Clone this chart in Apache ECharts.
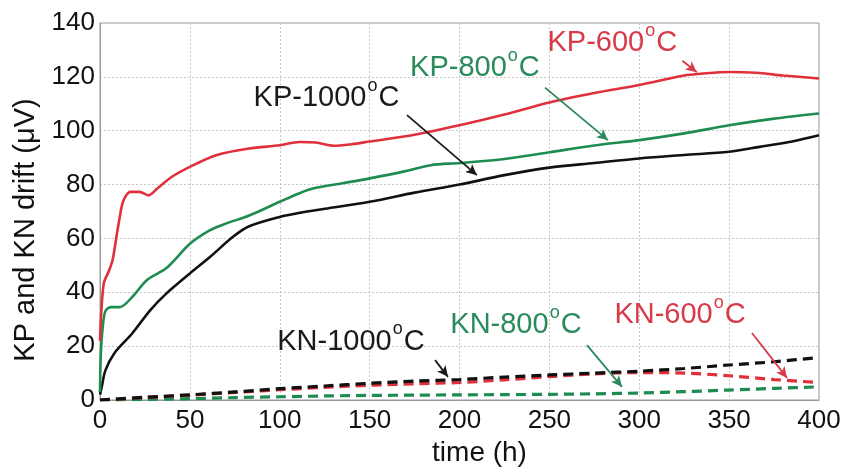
<!DOCTYPE html>
<html><head><meta charset="utf-8">
<script src="https://cdn.jsdelivr.net/npm/echarts@6/dist/echarts.min.js"></script>
<style>html,body{margin:0;padding:0;background:#fff}#c{width:846px;height:473px}</style>
</head><body><div id="c"></div>
<script>
const xTicks = [0,50,100,150,200,250,300,350,400];
const yTicks = [0,20,40,60,80,100,120,140];

const kp600T = [0,2,5,7,9,11,13,17,22,27,32,40,50,65,83,100,111,120,130,140,150,175,200,225,250,275,300,325,335,350,365,380,400];
const kp600V = [22,43,48,52,60,68,74,77.3,77.3,76,78.6,82.9,86.6,91,93.4,94.6,95.8,95.6,94.4,95,96,98.5,102,106,110.5,114,117,120.5,121.2,121.8,121.5,120.5,119.4];

const kp800T = [0,0.5,1.5,3,6,11,18,26,37,50,61,70,83,100,111,119,135,150,170,184,200,225,250,275,300,325,350,375,400];
const kp800V = [3,18,27,33,34.5,34.5,38.3,44.5,49,58,63,65.5,68.5,73.6,76.8,78.6,80.5,82.3,85,87.2,88,89.5,92,94.5,96.5,99,102,104.5,106.4];

const kp1000T = [0,1,3,8,18,28,37,50,61,74,83,100,111,125,150,175,200,225,250,275,300,325,350,367,385,400];
const kp1000V = [2,5,11,17.4,24.8,33.4,39.6,47,53,60.6,64.5,68,69.5,71,73.6,77,80,83.5,86.3,88,89.7,91,92.2,94,96,98.3];

const knT = [0,25,50,75,100,125,150,175,200,225,250,275,300,325,350,375,400];
const kn1000V = [0,1,1.9,3,4.2,5.2,6.2,7,7.6,8.5,9.3,10,10.7,11.7,13,14.2,15.8];
const kn600V  = [0,0.9,1.8,2.8,3.8,4.7,5.5,6,6.5,7.5,8.7,9.7,10.2,10,9,7.6,6.5];
const kn800V  = [0,0.2,0.5,0.9,1.2,1.5,1.7,1.8,1.9,2,2.1,2.3,2.6,3.1,3.7,4.3,4.9];

// annotations: [label, labelT, labelV, arrowFromT, arrowFromV, arrowToT, arrowToV]
const annKP600  = ['KP-600', 285, 132.5, 324, 126, 332, 121.7];
const annKP800  = ['KP-800', 208.6, 123.2, 247.6, 116, 282.6, 96.5];
const annKP1000 = ['KP-1000', 126, 112, 170.8, 105.8, 209.7, 83.5];
const annKN1000 = ['KN-1000', 139.6, 21.6, 186.4, 14.8, 193.6, 8.6];
const annKN800  = ['KN-800', 231.4, 27.8, 270.9, 20.4, 290.4, 4.9];
const annKN600  = ['KN-600', 322.7, 31.5, 362.7, 24.9, 382.2, 8.2];

const RED = '#e0303c', GREEN = '#1e8c50', BLACK = '#111111';
const RED_T = '#d83a48', GREEN_T = '#2a8a5c', BLACK_T = '#1a1a1a';

function zip(t, v) { return t.map((x, i) => [x, v[i]]); }

function annot(a, color) {
  return {
    markPoint: {
      silent: true, animation: false,
      symbol: 'circle', symbolSize: 1, itemStyle: { color: 'rgba(0,0,0,0)' },
      label: {
        show: true, position: 'inside',
        formatter: '{a|' + a[0] + '}{s|o}{a|C}',
        rich: {
          a: { fontSize: 29, color: color, fontFamily: 'Liberation Sans' },
          s: { fontSize: 18, color: color, fontFamily: 'Liberation Sans', padding: [0, 1, 25, 1] }
        }
      },
      data: [{ coord: [a[1], a[2]] }]
    },
    markLine: {
      silent: true, animation: false,
      symbol: ['none', 'arrow'], symbolSize: [8, 11],
      label: { show: false },
      lineStyle: { color: color, type: 'solid', width: 1.8 },
      data: [[{ coord: [a[3], a[4]] }, { coord: [a[5], a[6]] }]]
    }
  };
}

function series(name, data, color, dashed, ann, textColor) {
  return Object.assign({
    name: name, type: 'line', data: data, showSymbol: false, smooth: 0.3,
    animation: false,
    lineStyle: { color: color, width: dashed ? 3.2 : 2.6, type: dashed ? [10, 6] : 'solid' },
    z: dashed ? 3 : 2
  }, annot(ann, textColor));
}

const chart = echarts.init(document.getElementById('c'));
const axisLabel = { fontSize: 26, color: '#111', fontFamily: 'Liberation Sans' };
chart.setOption({
  backgroundColor: '#fff',
  grid: { left: 100, right: 27, top: 23, bottom: 73, show: true, borderColor: '#999', borderWidth: 1 },
  xAxis: {
    type: 'value', min: 0, max: 400, interval: 50,
    name: 'time (h)', nameLocation: 'middle', nameGap: 39,
    nameTextStyle: { fontSize: 28, color: '#111', fontFamily: 'Liberation Sans', padding: [0, 0, 0, 40] },
    axisLine: { show: true, lineStyle: { color: '#999' } },
    axisTick: { show: false },
    axisLabel: Object.assign({ margin: 8, formatter: v => xTicks.includes(v) ? String(v) : '' }, axisLabel),
    splitLine: { show: true, lineStyle: { color: '#c8c8c8', type: [2, 2] } }
  },
  yAxis: {
    type: 'value', min: 0, max: 140, interval: 20,
    name: 'KP and KN drift (μV)', nameLocation: 'middle', nameGap: 56,
    nameTextStyle: { fontSize: 29, color: '#111', fontFamily: 'Liberation Sans', padding: [0, 37, 0, 0] },
    axisLine: { show: true, lineStyle: { color: '#999' } },
    axisTick: { show: false },
    axisLabel: Object.assign({ margin: 5, formatter: v => yTicks.includes(v) ? String(v) : '' }, axisLabel),
    splitLine: { show: true, lineStyle: { color: '#c8c8c8', type: [2, 2] } }
  },
  series: [
    series('KN-800', zip(knT, kn800V), GREEN, true, annKN800, GREEN_T),
    series('KN-600', zip(knT, kn600V), RED, true, annKN600, RED_T),
    series('KN-1000', zip(knT, kn1000V), BLACK, true, annKN1000, BLACK_T),
    series('KP-1000', zip(kp1000T, kp1000V), BLACK, false, annKP1000, BLACK_T),
    series('KP-800', zip(kp800T, kp800V), GREEN, false, annKP800, GREEN_T),
    series('KP-600', zip(kp600T, kp600V), RED, false, annKP600, RED_T)
  ]
});
</script></body></html>
